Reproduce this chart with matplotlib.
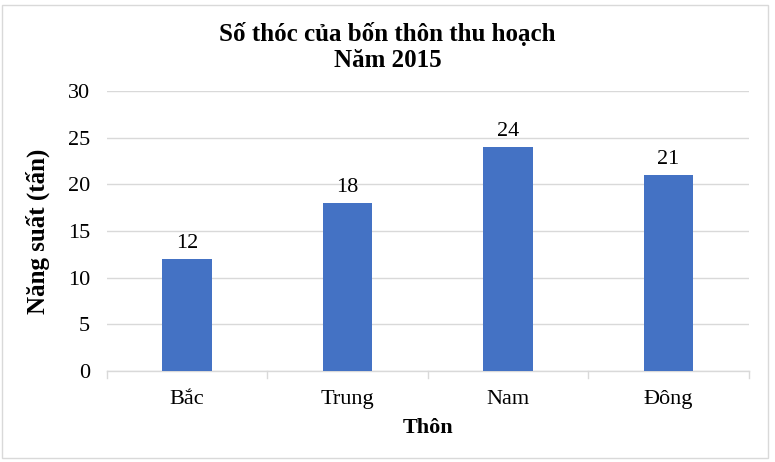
import matplotlib.pyplot as plt
from matplotlib.patches import Rectangle

thon = ["Bắc", "Trung", "Nam", "Đông"]
nang_suat = [12, 18, 24, 21]
yticks = [0, 5, 10, 15, 20, 25, 30]

plt.rcParams['font.family'] = ['Liberation Serif', 'DejaVu Serif']

fig = plt.figure(figsize=(7.75, 4.62), dpi=100)
ax = fig.add_axes([0.138, 0.197, 0.828, 0.606])

x = range(len(thon))
bars = ax.bar(x, nang_suat, width=0.31, color="#4472C4", zorder=3)
for b, v in zip(bars, nang_suat):
    ax.text(b.get_x() + b.get_width() / 2, v + 0.6, str(v), ha="center", va="bottom", fontsize=16)

ax.set_xlim(-0.5, len(thon) - 0.5)
ax.set_ylim(0, 30)
ax.set_yticks(yticks)
ax.set_yticklabels([str(t) for t in yticks], fontsize=16)
ax.set_xticks(list(x))
ax.set_xticklabels(thon, fontsize=16)
ax.tick_params(axis="x", length=0, pad=14)
ax.tick_params(axis="y", length=0, pad=12)
ax.grid(axis="y", color="#d9d9d9", linewidth=1, zorder=0)
for s in ["top", "right", "left"]:
    ax.spines[s].set_visible(False)
ax.spines["bottom"].set_color("#d9d9d9")
ax.spines["bottom"].set_linewidth(1)

# small separators between categories below the axis
for i in range(len(thon) + 1):
    ax.plot([i - 0.5, i - 0.5], [0, -0.75], color="#d9d9d9", linewidth=1, clip_on=False)

ax.set_xlabel("Thôn", fontsize=16, fontweight="bold", labelpad=6)
ax.set_ylabel("Năng suất (tấn)", fontsize=18, fontweight="bold", labelpad=13)
fig.text(0.5, 0.898, "Số thóc của bốn thôn thu hoạch\nNăm 2015", ha="center", va="center",
         fontsize=18, fontweight="bold", linespacing=1.2)

fig.patches.append(Rectangle((0.002, 0.008), 0.989, 0.982, transform=fig.transFigure,
                             fill=False, edgecolor="#d9d9d9", linewidth=1))

fig.savefig("out.png", dpi=100)
